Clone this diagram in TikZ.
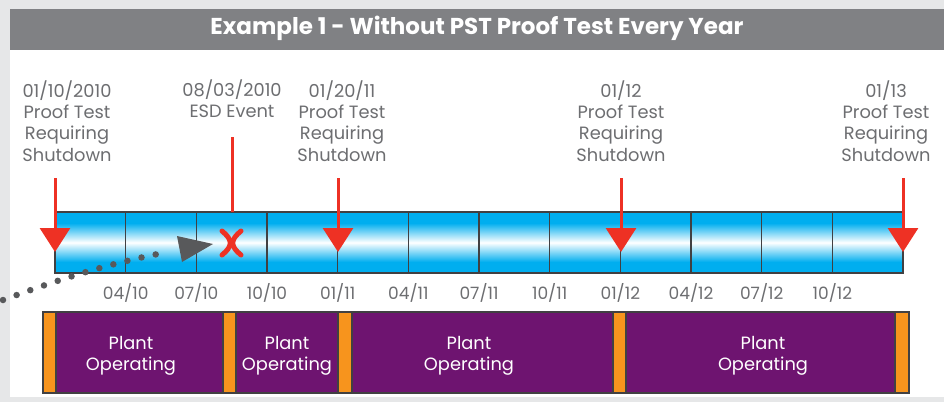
\documentclass[tikz,border=0pt]{standalone}
\usepackage{fontspec}
\setmainfont{Poppins}
\usetikzlibrary{arrows.meta}
\definecolor{bgray}{HTML}{E6E7E8}
\definecolor{hgray}{HTML}{808184}
\definecolor{tgray}{HTML}{6D6E71}
\definecolor{cyanb}{HTML}{00AEEF}
\definecolor{redA}{HTML}{EE3124}
\definecolor{purp}{HTML}{6E1470}
\definecolor{orng}{HTML}{F7941D}
\definecolor{edgeg}{HTML}{414042}
\definecolor{dotg}{HTML}{58595B}
\pgfdeclareverticalshading{barshade}{100bp}{color(0bp)=(cyanb); color(25bp)=(cyanb); color(34bp)=(cyanb); color(50bp)=(white); color(66bp)=(cyanb); color(75bp)=(cyanb); color(100bp)=(cyanb)}
\begin{document}
\begin{tikzpicture}[x=1pt,y=-1pt,
  titletext/.style={text=white, font=\fontsize{23}{27}\selectfont\bfseries, inner sep=0pt},
  lbl/.style={text=tgray, font=\fontsize{17.8}{21.3}\selectfont, align=center, inner sep=0pt},
  ticklbl/.style={text=tgray, font=\fontsize{17}{20}\selectfont, inner sep=0pt},
  oplbl/.style={text=white, font=\fontsize{17.8}{21}\selectfont, align=center, inner sep=0pt},
  redline/.style={draw=redA, line width=3pt},
  redarrow/.style={redline, -{Triangle[length=24pt,width=30pt]}},
  divider/.style={draw=edgeg, line width=1.5pt},
  orangeseg/.style={fill=orng, draw=edgeg, line width=1.2pt},
  purpleseg/.style={fill=purp, draw=edgeg, line width=1.2pt},
  dotted path/.style={draw=dotg, line width=6.5pt, line cap=round, dash pattern=on 0pt off 14.5pt}
]
\useasboundingbox (0,0) rectangle (944,402);
% background
\fill[bgray] (0,0) rectangle (944,402);
\fill[white] (10,50) rectangle (944,397);
\fill[hgray] (10,9) rectangle (944,50);
\node[titletext] (title) at (477,28) {Example 1 - Without PST Proof Test Every Year};

% labels above
\node[lbl] (l1) at (67,121) {01/10/2010\\Proof Test\\Requiring\\Shutdown};
\node[lbl] (l2) at (232,99) {08/03/2010\\ESD Event};
\node[lbl] (l3) at (342,121) {01/20/11\\Proof Test\\Requiring\\Shutdown};
\node[lbl] (l4) at (621,121) {01/12\\Proof Test\\Requiring\\Shutdown};
\node[lbl] (l5) at (886,121) {01/13\\Proof Test\\Requiring\\Shutdown};

% timeline bar
\shade[shading=barshade] (55,212) rectangle (903,273);
\foreach \i in {1,...,11}{
  \draw[divider] ({55+\i*848/12},212) -- ({55+\i*848/12},273);
}
\draw[divider] (55,212) rectangle (903,273);

% tick labels
\foreach \lab [count=\i] in {04/10,07/10,10/10,01/11,04/11,07/11,10/11,01/12,04/12,07/12,10/12}{
  \node[ticklbl] (t\i) at ({55+\i*848/12},293) {\lab};
}

% red arrows
\coordinate (a1top) at (55,178);  \coordinate (a1tip) at (55,252);
\coordinate (a2top) at (338,178); \coordinate (a2tip) at (338,252);
\coordinate (a3top) at (621,178); \coordinate (a3tip) at (621,252);
\coordinate (a4top) at (903,178); \coordinate (a4tip) at (903,252);
\draw[redarrow] (a1top) -- (a1tip);
\draw[redarrow] (a2top) -- (a2tip);
\draw[redarrow] (a3top) -- (a3tip);
\draw[redarrow] (a4top) -- (a4tip);

% ESD event
\coordinate (esdtop) at (232,137);
\coordinate (esdbot) at (232,212);
\draw[redline] (esdtop) -- (esdbot);
\draw[redA, line width=5pt, line cap=round] (222,231) .. controls (233,240) and (233,246) .. (222,255);
\draw[redA, line width=5pt, line cap=round] (241,231) .. controls (230,240) and (230,246) .. (241,255);

% dotted arrow
\coordinate (dstart) at (3,300);
\coordinate (dend) at (168,252);
\draw[dotted path] (dstart) .. controls (60,279) and (110,263) .. (dend);
\fill[dotg] (177,236) -- (213,244) -- (182,262) -- cycle;

% plant operating bar
\path[orangeseg] (43,312) rectangle (56,393);
\path[purpleseg] (56,312) rectangle (223,393);
\path[orangeseg] (223,312) rectangle (236,393);
\path[purpleseg] (236,312) rectangle (338,393);
\path[orangeseg] (338,312) rectangle (352,393);
\path[purpleseg] (352,312) rectangle (613,393);
\path[orangeseg] (613,312) rectangle (626,393);
\path[purpleseg] (626,312) rectangle (895,393);
\path[orangeseg] (895,312) rectangle (909,393);
\node[oplbl] (p1) at (131,356) {Plant\\Operating};
\node[oplbl] (p2) at (287,356) {Plant\\Operating};
\node[oplbl] (p3) at (469,356) {Plant\\Operating};
\node[oplbl] (p4) at (763,356) {Plant\\Operating};
\end{tikzpicture}
\end{document}
